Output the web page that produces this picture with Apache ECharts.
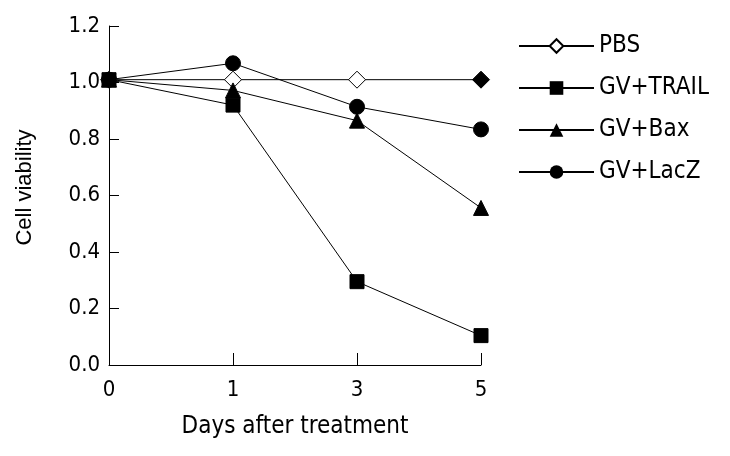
<!DOCTYPE html>
<html><head><meta charset="utf-8">
<script src="https://cdn.jsdelivr.net/npm/echarts@6/dist/echarts.min.js"></script>
<style>html,body{margin:0;padding:0;background:#fff}#c{width:730px;height:456px}</style>
</head><body><div id="c"></div>
<script>
const days = ['0', '1', '3', '5'];
const pbs = [1.01, 1.01, 1.01, 1.01];
const trail = [1.01, 0.92, 0.295, 0.104];
const bax = [1.01, 0.972, 0.865, 0.556];
const lacz = [1.01, 1.068, 0.914, 0.834];
const yTicks = [0, 0.2, 0.4, 0.6, 0.8, 1.0, 1.2];

const FONT = '"DejaVu Sans Condensed", "DejaVu Sans"';
const chart = echarts.init(document.getElementById('c'));
const lineStyle = { color: '#000', width: 1 };
chart.setOption({
  animation: false,
  backgroundColor: '#fff',
  textStyle: { fontFamily: FONT, color: '#000' },
  grid: { left: 109, top: 26, right: 249, bottom: 91, containLabel: false },
  legend: {
    orient: 'vertical', left: 513, top: 29, itemWidth: 75, itemHeight: 17, itemGap: 18,
    textStyle: { fontFamily: FONT, fontSize: 24, color: '#000' },
    data: ['PBS', 'GV+TRAIL', 'GV+Bax', 'GV+LacZ']
  },
  xAxis: {
    type: 'category', data: days, boundaryGap: false,
    name: 'Days after treatment', nameLocation: 'middle', nameGap: 50,
    nameTextStyle: { fontFamily: FONT, fontSize: 24, color: '#000' },
    axisLine: { lineStyle: { color: '#000', width: 1 } },
    axisTick: { inside: true, length: 12, lineStyle: { color: '#000' } },
    axisLabel: { fontFamily: FONT, fontSize: 22, color: '#000', margin: 14 },
    splitLine: { show: false }
  },
  yAxis: {
    type: 'value', min: 0, max: 1.2, interval: 0.2,
    name: 'Cell viability', nameLocation: 'middle', nameGap: 73, nameRotate: 90,
    nameTextStyle: { fontFamily: '"Liberation Sans", Arial', fontSize: 22, color: '#000', padding: [0, 0, 0, 16] },
    axisLine: { show: true, lineStyle: { color: '#000', width: 1 } },
    axisTick: { show: true, inside: true, length: 10, lineStyle: { color: '#000' } },
    axisLabel: { fontFamily: FONT, fontSize: 22, color: '#000', margin: 9,
      formatter: v => yTicks.includes(Math.round(v * 10) / 10) ? v.toFixed(1) : '' },
    splitLine: { show: false }
  },
  series: [
    { name: 'PBS', type: 'line', data: pbs.map((v, i) => i === pbs.length - 1 ? { value: v, itemStyle: { color: '#000', borderColor: '#000' } } : v),
      symbol: 'diamond', symbolSize: 17, showAllSymbol: true, lineStyle: lineStyle,
      itemStyle: { color: '#fff', borderColor: '#000', borderWidth: 1 } },
    { name: 'GV+TRAIL', type: 'line', data: trail, symbol: 'rect', symbolSize: 14, lineStyle: lineStyle,
      itemStyle: { color: '#000', borderColor: '#000' } },
    { name: 'GV+Bax', type: 'line', data: bax, symbol: 'triangle', symbolSize: 15, lineStyle: lineStyle,
      itemStyle: { color: '#000', borderColor: '#000' } },
    { name: 'GV+LacZ', type: 'line', data: lacz, symbol: 'circle', symbolSize: 15, lineStyle: lineStyle,
      itemStyle: { color: '#000', borderColor: '#000' } }
  ]
});
</script></body></html>
